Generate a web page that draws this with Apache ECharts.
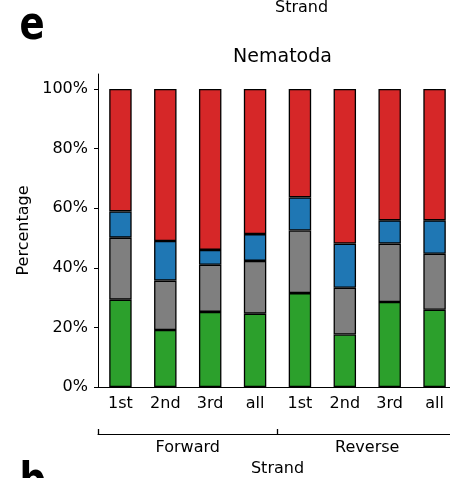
<!DOCTYPE html>
<html>
<head>
<meta charset="utf-8">
<script src="https://cdn.jsdelivr.net/npm/echarts@6/dist/echarts.min.js"></script>
<style>
  html, body { margin: 0; padding: 0; background: #fff; }
  #chart { width: 450px; height: 478px; }
</style>
</head>
<body>
<div id="chart"></div>
<script>
// Codon positions per strand
const categories = ['1st', '2nd', '3rd', 'all', '1st', '2nd', '3rd', 'all'];
const strands = ['Forward', 'Reverse'];
const yTicks = [0, 20, 40, 60, 80, 100];

// Stacked segment shares (%) from bottom to top
const greenValues = [29.3, 19.1, 25.2, 24.6, 31.5, 17.6, 28.5, 25.9];
const grayValues  = [20.8, 16.6, 15.8, 17.7, 21.0, 15.7, 19.6, 18.8];
const blueValues  = [8.8, 13.3, 5.0, 9.0, 11.1, 14.8, 7.8, 11.2];
const redValues   = [41.1, 51.0, 54.0, 48.7, 36.4, 51.9, 44.1, 44.1];

const FONT = 'DejaVu Sans';
const segments = [
  { name: 'green', values: greenValues, color: '#2ca02c' },
  { name: 'gray',  values: grayValues,  color: '#7f7f7f' },
  { name: 'blue',  values: blueValues,  color: '#1f77b4' },
  { name: 'red',   values: redValues,   color: '#d62728' }
];

const chart = echarts.init(document.getElementById('chart'), null, { renderer: 'canvas' });

chart.setOption({
  animation: false,
  backgroundColor: '#fff',
  textStyle: { fontFamily: FONT },
  title: {
    text: 'Nematoda',
    left: 277.5,
    textAlign: 'center',
    top: 43,
    textStyle: { fontFamily: FONT, fontSize: 19, fontWeight: 'normal', color: '#000' }
  },
  grid: { left: 98, top: 74, width: 359, height: 313, outerBoundsMode: 'none', containLabel: false },
  xAxis: [
    {
      type: 'category',
      data: categories,
      position: 'bottom',
      axisLine: { lineStyle: { color: '#000', width: 1 } },
      axisTick: { alignWithLabel: true, interval: 0, length: 4, lineStyle: { color: '#000', width: 1 } },
      axisLabel: { interval: 0, margin: 9, color: '#000', fontFamily: FONT, fontSize: 16 }
    },
    {
      type: 'category',
      data: strands,
      position: 'bottom',
      offset: 47,
      name: 'Strand',
      nameLocation: 'middle',
      nameGap: 26,
      nameTextStyle: { color: '#000', fontFamily: FONT, fontSize: 16 },
      axisLine: { show: true, lineStyle: { color: '#000', width: 1 } },
      axisTick: { show: true, inside: true, interval: 0, length: 5, lineStyle: { color: '#000', width: 1.3 } },
      axisLabel: { interval: 0, margin: 6, color: '#000', fontFamily: FONT, fontSize: 16 }
    }
  ],
  yAxis: {
    type: 'value',
    min: 0,
    max: 105,
    interval: 20,
    name: 'Percentage',
    nameLocation: 'middle',
    nameGap: 64,
    nameTextStyle: { color: '#000', fontFamily: FONT, fontSize: 16 },
    splitLine: { show: false },
    axisLine: { show: true, lineStyle: { color: '#000', width: 1 } },
    axisTick: { show: true, length: 4, customValues: yTicks, lineStyle: { color: '#000', width: 1 } },
    axisLabel: {
      customValues: yTicks,
      margin: 10,
      color: '#000',
      fontFamily: FONT,
      fontSize: 16,
      formatter: v => v + '%'
    }
  },
  series: segments.map(s => ({
    name: s.name,
    type: 'bar',
    stack: 'total',
    xAxisIndex: 0,
    barWidth: '50%',
    data: s.values,
    itemStyle: { color: s.color, borderColor: '#000', borderWidth: 1.3 }
  })),
  graphic: [
    {
      type: 'text',
      left: 275,
      top: 0,
      style: { text: 'Strand', fontFamily: FONT, fontSize: 16, fill: '#000', textAlign: 'center' }
    },
    {
      type: 'text',
      x: 19.5,
      y: 3,
      scaleX: 0.79,
      style: { text: 'e', fontFamily: FONT, fontSize: 47, fontWeight: 'bold', fill: '#000', verticalAlign: 'top' }
    },
    {
      type: 'text',
      x: 19.5,
      y: 459,
      scaleX: 0.79,
      style: { text: 'b', fontFamily: FONT, fontSize: 47, fontWeight: 'bold', fill: '#000', verticalAlign: 'top' }
    }
  ]
});
</script>
</body>
</html>
